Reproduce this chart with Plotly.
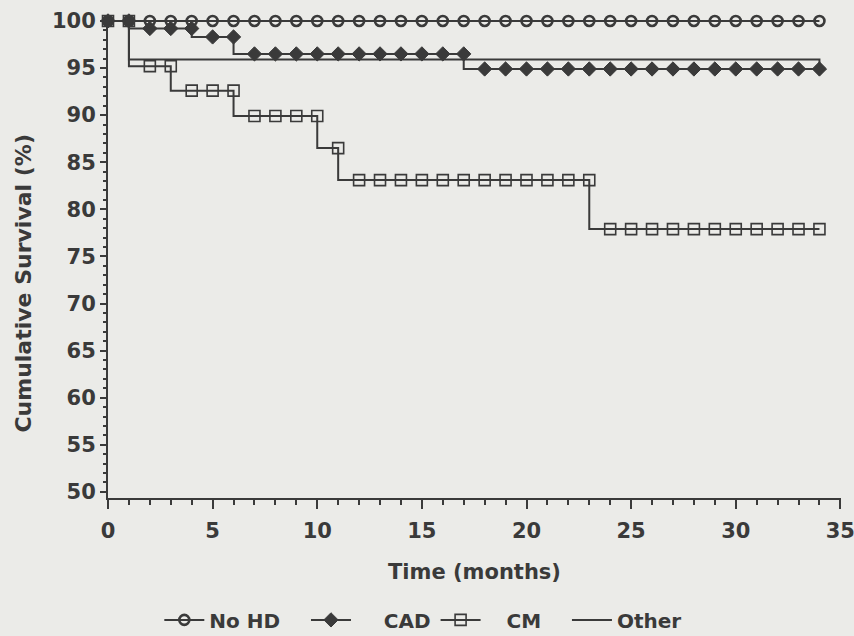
import plotly.graph_objects as go

# ---- data ----
months = list(range(0, 35))

# Kaplan-Meier step points: time of drop and survival (%) after the drop
nohd_t = [0, 34]
nohd_s = [100.0, 100.0]

cad_t = [0, 1, 4, 6, 17, 34]
cad_s = [100.0, 99.2, 98.3, 96.5, 94.9, 94.9]

cm_t = [0, 1, 3, 6, 10, 11, 23, 34]
cm_s = [100.0, 95.2, 92.6, 89.9, 86.5, 83.1, 77.9, 77.9]

other_t = [0, 1, 34]
other_s = [100.0, 95.9, 95.0]

x_ticks = [0, 5, 10, 15, 20, 25, 30, 35]
y_ticks = [50, 55, 60, 65, 70, 75, 80, 85, 90, 95, 100]


def marks(ts, ss):
    """survival just before each month (value shown by the monthly marker)"""
    out = []
    for m in months:
        v = ss[0]
        for t, s in zip(ts, ss):
            if t < m:
                v = s
        out.append(v)
    return out


INK = "#3a3a3a"
BG = "#ebebe8"
NB = "\u00a0"

fig = go.Figure()


def add_group(name, ts, ss, symbol=None, msize=10, mline=2.0):
    # step line
    fig.add_trace(go.Scatter(
        x=ts, y=ss, mode="lines", line=dict(shape="hv", color=INK, width=2),
        showlegend=False, hoverinfo="skip", cliponaxis=False, legendgroup=name))
    mk = None
    if symbol is not None:
        mk = dict(symbol=symbol, size=msize, color=INK,
                  line=dict(color=INK, width=mline))
        fig.add_trace(go.Scatter(
            x=months, y=marks(ts, ss), mode="markers", showlegend=False,
            legendgroup=name, cliponaxis=False, marker=mk))
    # legend entry
    fig.add_trace(go.Scatter(
        x=[None], y=[None], mode="lines+markers" if mk else "lines",
        name=name, legendgroup=name, line=dict(color=INK, width=2),
        marker=mk))


add_group("Other", other_t, other_s)
add_group(NB * 3 + "CM" + NB * 3, cm_t, cm_s, symbol="square-open", msize=11, mline=1.6)
add_group(NB * 4 + "CAD", cad_t, cad_s, symbol="diamond", msize=11, mline=1.0)
add_group("No HD" + NB * 3, nohd_t, nohd_s, symbol="circle-open", msize=10, mline=2.6)

fig.update_layout(
    width=854, height=636,
    margin=dict(l=108, r=13, t=20, b=138, autoexpand=False),
    paper_bgcolor=BG, plot_bgcolor=BG,
    font=dict(family="DejaVu Sans", size=20, color=INK, weight="bold"),
    showlegend=True,
    legend=dict(orientation="h", traceorder="reversed",
                x=0.07, xanchor="left", y=-0.255, yanchor="middle",
                bgcolor="rgba(0,0,0,0)", font=dict(size=20),
                itemwidth=40),
    xaxis=dict(range=[0, 35.03], tickvals=x_ticks, showline=True, linecolor=INK,
               linewidth=2, ticks="outside", ticklen=9, tickwidth=2,
               tickcolor=INK, showgrid=False, zeroline=False, automargin=False,
               tickfont=dict(size=21), ticklabeloverflow="allow",
               minor=dict(dtick=1, ticks="outside", ticklen=5, tickwidth=1.5,
                          tickcolor=INK, showgrid=False),
               title=dict(text="Time (months)", standoff=22, font=dict(size=21)),
               ticklabelstandoff=4),
    yaxis=dict(range=[49.35, 100.1], tickvals=y_ticks, showline=True,
               linecolor=INK, linewidth=2, ticks="outside", ticklen=6,
               tickwidth=2, tickcolor=INK, showgrid=False, zeroline=False,
               automargin=False, tickfont=dict(size=21),
               minor=dict(dtick=1, ticks="outside", ticklen=3, tickwidth=1.5,
                          tickcolor=INK, showgrid=False),
               ticklabelstandoff=0),
    annotations=[dict(text="Cumulative Survival (%)", textangle=-90,
                      xref="paper", yref="paper", x=-0.115, y=0.45,
                      xanchor="center", yanchor="middle", showarrow=False,
                      font=dict(size=22))],
)

fig.write_html("out.html")
